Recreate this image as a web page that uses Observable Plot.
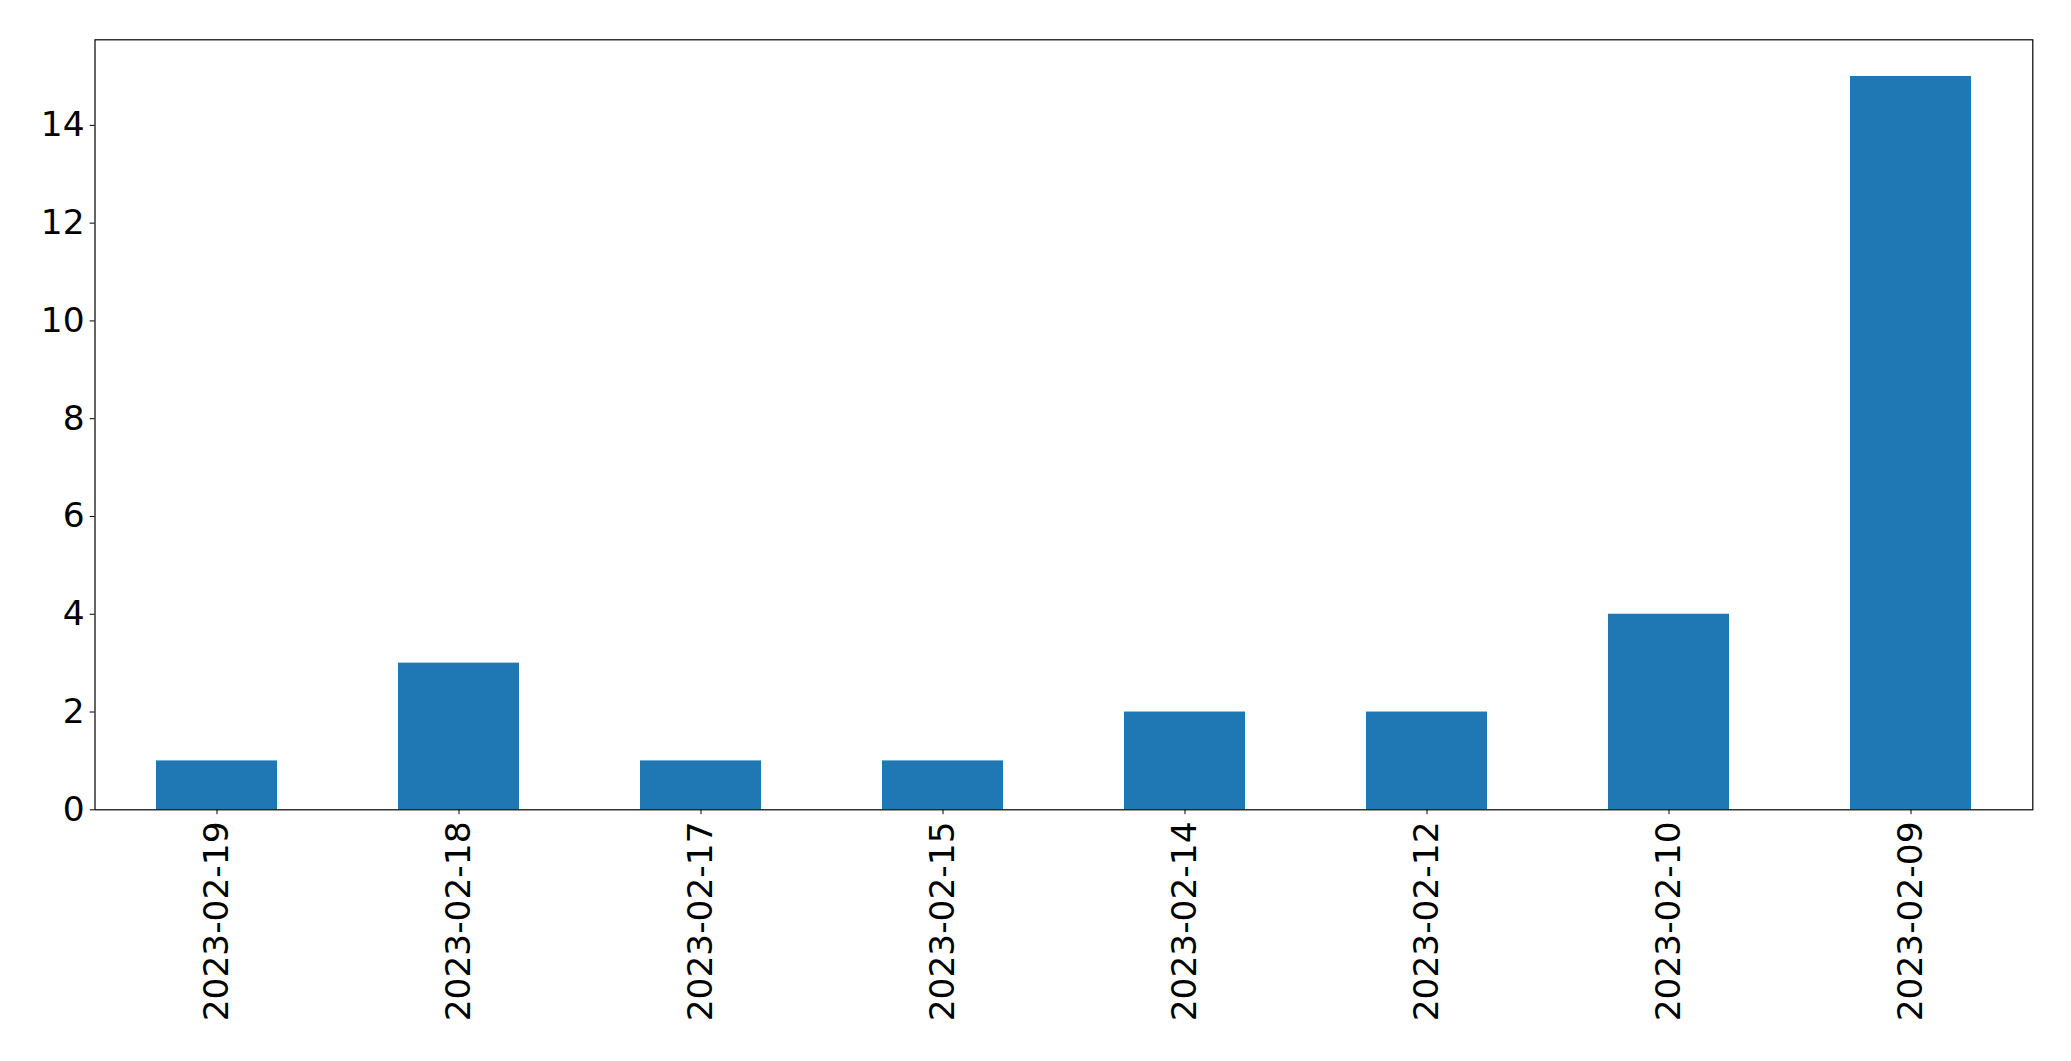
<!DOCTYPE html>
<html><head><meta charset="utf-8">
<script src="https://cdn.jsdelivr.net/npm/d3@7"></script>
<script src="https://cdn.jsdelivr.net/npm/@observablehq/plot@0.6"></script>
<style>html,body{margin:0;padding:0;background:#fff;} #chart svg{display:block;}</style>
</head><body><div id="chart"></div>
<script>
const dates = ["2023-02-19","2023-02-18","2023-02-17","2023-02-15","2023-02-14","2023-02-12","2023-02-10","2023-02-09"];
const counts = [1,3,1,1,2,2,4,15];
const yTicks = [0,2,4,6,8,10,12,14];
const data = dates.map((d,i)=>({date:d, count:counts[i]}));
const chart = Plot.plot({
  width: 2071, height: 1061,
  marginLeft: 94.5, marginRight: 38.7, marginTop: 39.3, marginBottom: 251.7,
  style: {fontFamily: "DejaVu Sans", fontSize: "34.4px", background: "white", color: "black", overflow: "visible"},
  x: {domain: dates, paddingInner: 0.5, paddingOuter: 0.25, align: 0.5, label: null},
  y: {domain: [0, 15.75], label: null},
  marks: [
    Plot.barY(data, {x:"date", y:"count", fill:"#1f77b4"}),
    Plot.axisY({ticks: yTicks, tickSize: 4.86, tickPadding: 5.5, label: null, fontSize: 34.4, tickFormat: d => String(d)}),
    Plot.axisX({tickSize: 4.86, tickPadding: 6.8, tickRotate: -90, label: null, fontSize: 34.4}),
    Plot.frame({stroke: "#000", strokeWidth: 1.2})
  ]
});
document.getElementById("chart").appendChild(chart);
</script></body></html>
